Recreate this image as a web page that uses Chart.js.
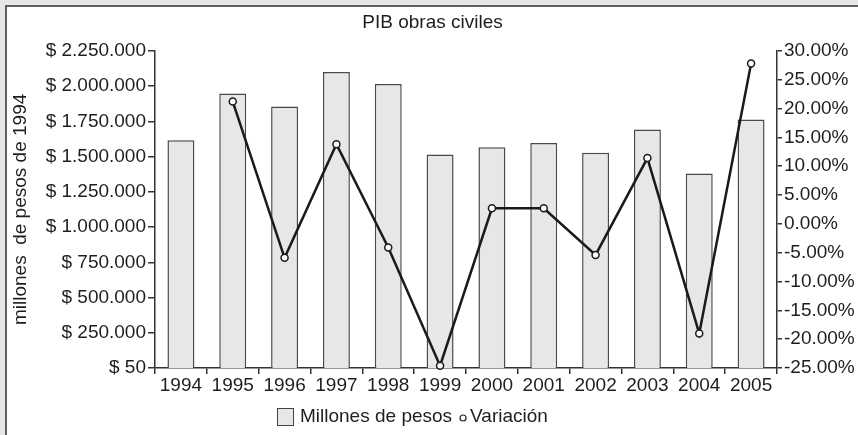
<!DOCTYPE html>
<html>
<head>
<meta charset="utf-8">
<script src="https://cdn.jsdelivr.net/npm/chart.js@4/dist/chart.umd.min.js"></script>
<style>
  html, body { margin: 0; padding: 0; background: #e6e6e6; overflow: hidden; }
  #frame {
    position: absolute; left: 5px; top: 5px; right: 0; bottom: 0;
    border-top: 2px solid #5e5e5e; border-left: 2px solid #5e5e5e;
    background: #fff;
  }
  #chart { display: block; }
</style>
</head>
<body>
<div id="frame"><canvas id="chart" width="851" height="428"></canvas></div>
<script>
// datos
let years = ['1994', '1995', '1996', '1997', '1998', '1999', '2000', '2001', '2002', '2003', '2004', '2005'];
let pib = [1615000, 1948000, 1855000, 2100000, 2015000, 1514000, 1566000, 1596000, 1526000, 1691000, 1380000, 1763000];
let variacion = [null, 21.2, -5.9, 13.8, -4.1, -24.6, 2.7, 2.7, -5.4, 11.4, -19.0, 27.8];
let pesosTicks = [50, 250000, 500000, 750000, 1000000, 1250000, 1500000, 1750000, 2000000, 2250000];
let pctTicks = [-25, -20, -15, -10, -5, 0, 5, 10, 15, 20, 25, 30];

let textColor = '#1e1e1e';
let axisColor = '#333';
let fontFamily = "'Liberation Sans', Arial, sans-serif";

Chart.defaults.font.family = fontFamily;
Chart.defaults.font.size = 19;
Chart.defaults.color = textColor;

function pesos(v) {
    return '$ ' + Number(v).toLocaleString('de-DE');
}

// leyenda dibujada a mano abajo
const bottomLegend = {
    id: 'bottomLegend',
    afterDraw(chart) {
        let ctx = chart.ctx;
        let bars = chart.data.datasets.find(d => d.type === 'bar');
        let line = chart.data.datasets.find(d => d.type === 'line');
        let y = chart.height - 18;
        let x = 270;
        ctx.save();
        ctx.font = '19px ' + fontFamily;
        ctx.textBaseline = 'middle';
        ctx.fillStyle = bars.backgroundColor;
        ctx.strokeStyle = '#444';
        ctx.lineWidth = 1;
        ctx.fillRect(x + 0.5, y - 8.5, 16, 17);
        ctx.strokeRect(x + 0.5, y - 8.5, 16, 17);
        ctx.fillStyle = textColor;
        let tx = x + 23;
        ctx.fillText(bars.label, tx, y);
        let cx = tx + ctx.measureText(bars.label).width + 11;
        ctx.beginPath();
        ctx.arc(cx, y + 1, 3, 0, Math.PI * 2);
        ctx.strokeStyle = '#222';
        ctx.lineWidth = 1.2;
        ctx.stroke();
        ctx.fillText(line.label, cx + 7, y);
        ctx.restore();
    }
};

new Chart(document.getElementById('chart'), {
    type: 'bar',
    data: {
        labels: years,
        datasets: [
            {
                type: 'line',
                label: 'Variación',
                data: variacion,
                yAxisID: 'y1',
                borderColor: '#1a1a1a',
                borderWidth: 2.5,
                pointRadius: 3.5,
                pointBorderWidth: 1.5,
                pointBorderColor: '#1a1a1a',
                pointBackgroundColor: '#fff',
                tension: 0,
                clip: false,
                order: 0
            },
            {
                type: 'bar',
                label: 'Millones de pesos',
                data: pib,
                yAxisID: 'y',
                backgroundColor: '#e6e7e8',
                borderColor: '#4a4a4a',
                borderWidth: 1.5,
                barPercentage: 0.52,
                categoryPercentage: 1,
                order: 1
            }
        ]
    },
    options: {
        responsive: false,
        animation: false,
        layout: { padding: { left: 0, right: 0, top: 0, bottom: 36 } },
        plugins: {
            legend: { display: false },
            tooltip: { enabled: false },
            title: {
                display: true,
                text: 'PIB obras civiles',
                color: textColor,
                font: { size: 19, weight: 'normal' },
                padding: { top: 4, bottom: 17 }
            }
        },
        scales: {
            x: {
                offset: true,
                grid: { offset: true, drawOnChartArea: false, tickLength: 6, color: axisColor, lineWidth: 1.5 },
                border: { color: axisColor, width: 1.5 },
                ticks: { color: textColor, padding: 0, maxRotation: 0, autoSkip: false },
                afterFit(s) { s.height = 31; }
            },
            y: {
                position: 'left',
                min: 50,
                max: 2250000,
                grid: { drawOnChartArea: false, tickLength: 7, color: axisColor, lineWidth: 1.5 },
                border: { color: axisColor, width: 1.5 },
                ticks: { padding: 2, color: textColor, callback: v => pesos(v) },
                afterBuildTicks(s) { s.ticks = pesosTicks.map(v => ({ value: v })); },
                title: {
                    display: true,
                    text: 'millones  de pesos de 1994',
                    color: textColor,
                    font: { size: 19 },
                    padding: { top: 2, bottom: 0 }
                },
                afterFit(s) { s.width = 148; }
            },
            y1: {
                position: 'right',
                min: -25,
                max: 30,
                grid: { drawOnChartArea: false, tickLength: 5, color: axisColor, lineWidth: 1.5 },
                border: { color: axisColor, width: 1.5 },
                ticks: { padding: 2, color: textColor, callback: v => v.toFixed(2) + '%' },
                afterBuildTicks(s) { s.ticks = pctTicks.map(v => ({ value: v })); },
                afterFit(s) { s.width = 81; }
            }
        }
    },
    plugins: [bottomLegend]
});
</script>
</body>
</html>
